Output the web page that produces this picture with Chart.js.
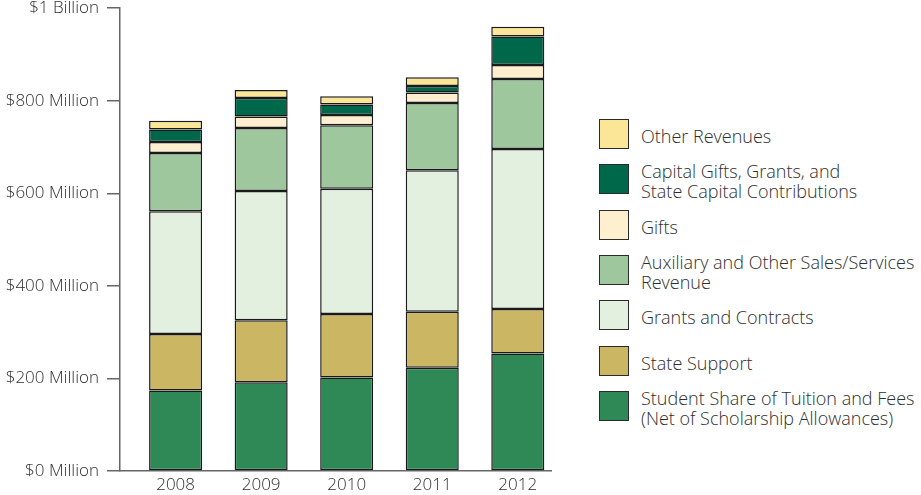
<!DOCTYPE html>
<html>
<head>
<meta charset="utf-8">
<script src="https://cdn.jsdelivr.net/npm/chart.js@4/dist/chart.umd.min.js"></script>
<style>
  html, body { margin: 0; padding: 0; background: #fff; }
  body { width: 921px; height: 495px; position: relative; overflow: hidden; font-family: "Open Sans", "Liberation Sans", sans-serif; }
  #wrap { position: absolute; left: 0; top: -10px; width: 552px; height: 505px; }
  #legend { position: absolute; left: 599px; top: 119px; }
  .item { display: flex; align-items: center; height: 30px; margin-bottom: 15.33px; }
  .sw { width: 28px; height: 28px; border: 1.5px solid #2a2a2a; flex: none; }
  .txt { margin-left: 12px; position: relative; top: 2px; font-size: 18px; font-weight: 300; line-height: 20px; color: #2e2e2e; white-space: nowrap; }
</style>
</head>
<body>
<div id="wrap"><canvas id="c"></canvas></div>
<div id="legend"></div>
<script>
const years = ['2008', '2009', '2010', '2011', '2012'];
const yTickLabels = { 0: '$0 Million', 200: '$200 Million', 400: '$400 Million', 600: '$600 Million', 800: '$800 Million', 1000: '$1 Billion' };

const studentShare = [174, 192, 202, 223, 254];
const stateSupport = [122, 134, 137, 121, 96];
const grantsContracts = [265, 279, 271, 306, 346];
const auxiliary = [126, 136, 137, 145, 151];
const gifts = [24, 25, 22, 23, 30];
const capitalGifts = [27, 40, 23, 14, 62];
const otherRevenues = [19, 17, 18, 19, 21];

const series = [
  { label: ['Student Share of Tuition and Fees', '(Net of Scholarship Allowances)'], data: studentShare, color: '#2f8956' },
  { label: ['State Support'], data: stateSupport, color: '#cbb664' },
  { label: ['Grants and Contracts'], data: grantsContracts, color: '#e3f0df' },
  { label: ['Auxiliary and Other Sales/Services', 'Revenue'], data: auxiliary, color: '#9ec79e' },
  { label: ['Gifts'], data: gifts, color: '#feefcf' },
  { label: ['Capital Gifts, Grants, and', 'State Capital Contributions'], data: capitalGifts, color: '#00684a' },
  { label: ['Other Revenues'], data: otherRevenues, color: '#fbe596' }
];

const datasets = series.map(s => ({
  label: s.label.join(' '),
  data: s.data.map((v, i) => ({ x: i, y: v })),
  backgroundColor: s.color,
  borderColor: '#1a1a1a',
  borderWidth: 1.5,
  borderSkipped: false,
  categoryPercentage: 1,
  barPercentage: 0.62
}));

const axisColor = '#666';
const fontSpec = { family: '"Open Sans", "Liberation Sans", sans-serif', size: 17, weight: 300 };

new Chart(document.getElementById('c'), {
  type: 'bar',
  data: { datasets },
  options: {
    responsive: true,
    maintainAspectRatio: false,
    animation: false,
    layout: { padding: 0 },
    plugins: { legend: { display: false }, tooltip: { enabled: false } },
    scales: {
      x: {
        type: 'linear',
        stacked: true,
        offset: false,
        min: -0.65,
        max: 4.4,
        grid: { display: false, drawTicks: false },
        border: { display: true, color: axisColor, width: 1.5 },
        ticks: {
          stepSize: 1,
          includeBounds: false,
          autoSkip: false,
          maxRotation: 0,
          padding: 4,
          color: '#2e2e2e',
          font: fontSpec,
          callback: v => (Number.isInteger(v) && years[v] !== undefined) ? years[v] : ''
        },
        afterFit: s => { s.height = 24; }
      },
      y: {
        stacked: true,
        min: 0,
        max: 1000,
        grid: { drawOnChartArea: false, drawTicks: true, tickLength: 13, color: axisColor, lineWidth: 1.5 },
        border: { display: true, color: axisColor, width: 1.5 },
        ticks: {
          stepSize: 200,
          padding: 8,
          color: '#2e2e2e',
          font: fontSpec,
          callback: v => yTickLabels[v] !== undefined ? yTickLabels[v] : ''
        },
        afterFit: s => { s.width = 120; }
      }
    }
  }
});

const legend = document.getElementById('legend');
series.slice().reverse().forEach(s => {
  const item = document.createElement('div');
  item.className = 'item';
  const sw = document.createElement('div');
  sw.className = 'sw';
  sw.style.background = s.color;
  const txt = document.createElement('div');
  txt.className = 'txt';
  s.label.forEach((line, i) => {
    if (i) txt.appendChild(document.createElement('br'));
    txt.appendChild(document.createTextNode(line));
  });
  item.appendChild(sw);
  item.appendChild(txt);
  legend.appendChild(item);
});
</script>
</body>
</html>
